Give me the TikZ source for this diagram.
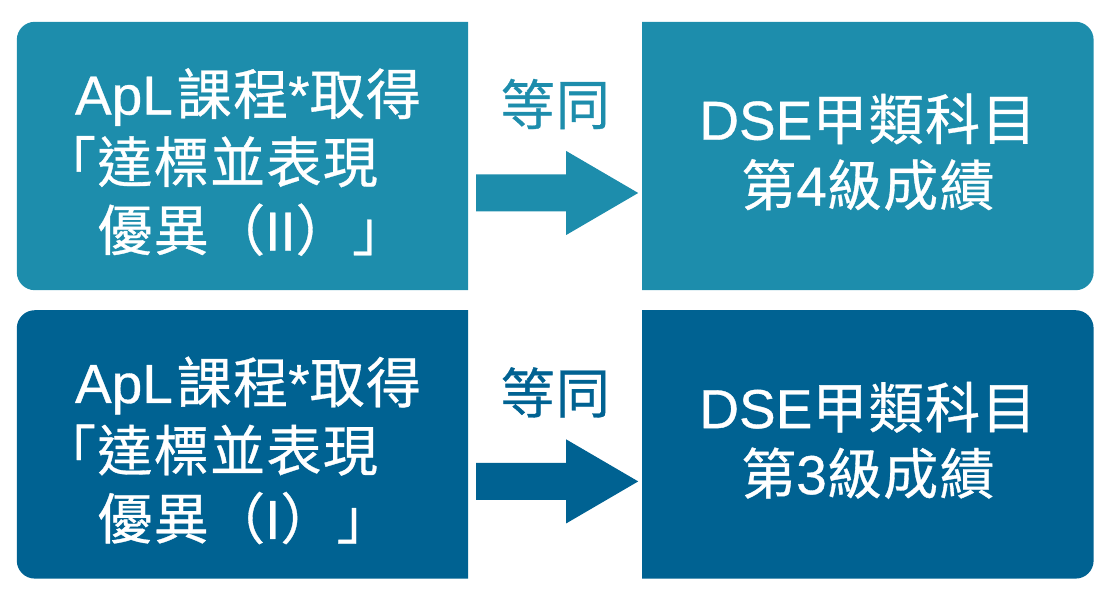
\documentclass[tikz,border=0pt]{standalone}
\usepackage{fontspec}
\setmainfont{Noto Sans CJK TC}[FakeBold=0.6,LetterSpace=2.5]
\newfontfamily\latinfont{Liberation Sans}[FakeBold=0.6]
\usetikzlibrary{calc,positioning}
\definecolor{APLteal}{RGB}{29,141,172}
\definecolor{APLblue}{RGB}{0,98,146}

\begin{document}
\begin{tikzpicture}[
    x=1pt, y=1pt,
    node distance=20pt and 174pt,
    box/.style={
      minimum width=451pt,
      minimum height=268pt,
      inner sep=0pt
    },
    halfround/.style={rounded corners=18pt},
    lefttext/.style={
      align=left,
      text=white,
      inner sep=0pt,
      font=\fontsize{55}{68}\selectfont
    },
    righttext/.style={
      align=center,
      text=white,
      inner sep=0pt,
      font=\fontsize{55}{66}\selectfont
    },
    eqlabel/.style={
      inner sep=0pt,
      font=\fontsize{54}{54}\selectfont
    },
    blockarrow/.style={
      to path={
        ($(\tikztostart)+(8,-18.5)$) -- ($(\tikztostart)+(8,-55.5)$)
        -- ($(\tikztotarget)+(-76,-55.5)$) -- ($(\tikztotarget)+(-76,-79)$)
        -- ($(\tikztotarget)+(-4,-37)$) -- ($(\tikztotarget)+(-76,5)$)
        -- ($(\tikztotarget)+(-76,-18.5)$) -- cycle
      }
    }
  ]
    \useasboundingbox (0,0) rectangle (1110,600);

    % boxes
    \node[box] (apl-ii) at (242.5,444) {};
    \node[box, right=of apl-ii] (dse-4) {};
    \node[box, below=of apl-ii] (apl-i) {};
    \node[box, right=of apl-i] (dse-3) {};

    % left boxes: rounded on the left, right boxes: rounded on the right
    \fill[APLteal] (apl-ii.north east) -- (apl-ii.south east) -- (apl-ii.south)
      [halfround] -- (apl-ii.south west) -- (apl-ii.north west) -- (apl-ii.north)
      [sharp corners] -- cycle;
    \fill[APLteal] (dse-4.north west) -- (dse-4.south west) -- (dse-4.south)
      [halfround] -- (dse-4.south east) -- (dse-4.north east) -- (dse-4.north)
      [sharp corners] -- cycle;
    \fill[APLblue] (apl-i.north east) -- (apl-i.south east) -- (apl-i.south)
      [halfround] -- (apl-i.south west) -- (apl-i.north west) -- (apl-i.north)
      [sharp corners] -- cycle;
    \fill[APLblue] (dse-3.north west) -- (dse-3.south west) -- (dse-3.south)
      [halfround] -- (dse-3.south east) -- (dse-3.north east) -- (dse-3.north)
      [sharp corners] -- cycle;

    \node[lefttext, right=24pt of apl-ii.west, yshift=-6pt] (apl-ii-text)
      {\hspace*{34pt}{\latinfont ApL}\hspace{4pt}課程{\latinfont *}取得\\「達標並表現\\　優異（{\latinfont II}）」};
    \node[righttext, yshift=4pt] (dse-4-text) at (dse-4)
      {{\latinfont DSE}甲類科目\\第{\latinfont 4}級成績};
    \node[lefttext, right=24pt of apl-i.west, yshift=-6pt] (apl-i-text)
      {\hspace*{34pt}{\latinfont ApL}\hspace{4pt}課程{\latinfont *}取得\\「達標並表現\\　優異（{\latinfont I}）」};
    \node[righttext, yshift=4pt] (dse-3-text) at (dse-3)
      {{\latinfont DSE}甲類科目\\第{\latinfont 3}級成績};

    \node[eqlabel, text=APLteal] (eq-upper)
      at ($(apl-ii.east)!0.5!(dse-4.west)+(0,52)$) {等同};
    \node[eqlabel, text=APLblue] (eq-lower)
      at ($(apl-i.east)!0.5!(dse-3.west)+(0,52)$) {等同};

    \path[fill=APLteal, blockarrow] (apl-ii.east) to (dse-4.west);
    \path[fill=APLblue, blockarrow] (apl-i.east) to (dse-3.west);
  \end{tikzpicture}
\end{document}
